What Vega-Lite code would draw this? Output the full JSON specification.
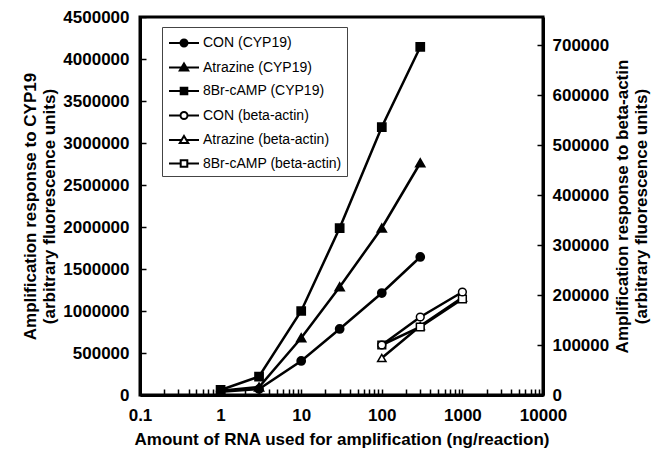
{
  "$schema": "https://vega.github.io/schema/vega-lite/v6.json",
  "width": 403,
  "height": 378,
  "autosize": {"type": "none"},
  "padding": {"left": 140, "top": 17, "right": 119, "bottom": 63},
  "config": {
    "font": "Liberation Sans",
    "view": {"stroke": "black", "strokeWidth": 3},
    "axis": {
      "labelFont": "Liberation Sans", "labelFontWeight": "bold", "labelFontSize": 17, "labelColor": "black",
      "titleFont": "Liberation Sans", "titleFontWeight": "bold", "titleFontSize": 17, "titleColor": "black",
      "titleLineHeight": 19,
      "domainColor": "black", "domainWidth": 3, "tickColor": "black", "tickWidth": 1.5, "grid": false
    },
    "legend": {
      "labelFont": "Liberation Sans", "labelFontSize": 14, "labelColor": "black", "labelLimit": 300,
      "symbolSize": 400, "symbolStrokeWidth": 2, "symbolStrokeColor": "black", "symbolOpacity": 1,
      "strokeColor": "#444", "padding": 5, "rowPadding": 5.5, "symbolOffset": 6, "labelOffset": 8
    }
  },
  "data": {
    "values": [
      {"x": 1, "v": 40000, "series": "CON (CYP19)", "gene": "CYP19", "marker": "circle"},
      {"x": 3, "v": 70000, "series": "CON (CYP19)", "gene": "CYP19", "marker": "circle"},
      {"x": 10, "v": 405000, "series": "CON (CYP19)", "gene": "CYP19", "marker": "circle"},
      {"x": 30, "v": 786000, "series": "CON (CYP19)", "gene": "CYP19", "marker": "circle"},
      {"x": 100, "v": 1214000, "series": "CON (CYP19)", "gene": "CYP19", "marker": "circle"},
      {"x": 300, "v": 1643000, "series": "CON (CYP19)", "gene": "CYP19", "marker": "circle"},
      {"x": 1, "v": 50000, "series": "Atrazine (CYP19)", "gene": "CYP19", "marker": "triangle"},
      {"x": 3, "v": 95000, "series": "Atrazine (CYP19)", "gene": "CYP19", "marker": "triangle"},
      {"x": 10, "v": 679000, "series": "Atrazine (CYP19)", "gene": "CYP19", "marker": "triangle"},
      {"x": 30, "v": 1286000, "series": "Atrazine (CYP19)", "gene": "CYP19", "marker": "triangle"},
      {"x": 100, "v": 1988000, "series": "Atrazine (CYP19)", "gene": "CYP19", "marker": "triangle"},
      {"x": 300, "v": 2762000, "series": "Atrazine (CYP19)", "gene": "CYP19", "marker": "triangle"},
      {"x": 1, "v": 60000, "series": "8Br-cAMP (CYP19)", "gene": "CYP19", "marker": "square"},
      {"x": 3, "v": 220000, "series": "8Br-cAMP (CYP19)", "gene": "CYP19", "marker": "square"},
      {"x": 10, "v": 1000000, "series": "8Br-cAMP (CYP19)", "gene": "CYP19", "marker": "square"},
      {"x": 30, "v": 1988000, "series": "8Br-cAMP (CYP19)", "gene": "CYP19", "marker": "square"},
      {"x": 100, "v": 3190000, "series": "8Br-cAMP (CYP19)", "gene": "CYP19", "marker": "square"},
      {"x": 300, "v": 4143000, "series": "8Br-cAMP (CYP19)", "gene": "CYP19", "marker": "square"},
      {"x": 100, "v": 100000, "series": "CON (beta-actin)", "gene": "beta", "marker": "circle"},
      {"x": 300, "v": 156000, "series": "CON (beta-actin)", "gene": "beta", "marker": "circle"},
      {"x": 1000, "v": 206000, "series": "CON (beta-actin)", "gene": "beta", "marker": "circle"},
      {"x": 100, "v": 74000, "series": "Atrazine (beta-actin)", "gene": "beta", "marker": "triangle"},
      {"x": 300, "v": 138000, "series": "Atrazine (beta-actin)", "gene": "beta", "marker": "triangle"},
      {"x": 1000, "v": 195000, "series": "Atrazine (beta-actin)", "gene": "beta", "marker": "triangle"},
      {"x": 100, "v": 100000, "series": "8Br-cAMP (beta-actin)", "gene": "beta", "marker": "square"},
      {"x": 300, "v": 136000, "series": "8Br-cAMP (beta-actin)", "gene": "beta", "marker": "square"},
      {"x": 1000, "v": 192000, "series": "8Br-cAMP (beta-actin)", "gene": "beta", "marker": "square"}
    ]
  },
  "encoding": {
    "x": {
      "field": "x", "type": "quantitative",
      "scale": {"type": "log", "domain": [0.1, 10000], "nice": false},
      "axis": {
        "values": [0.1,0.2,0.3,0.4,0.5,0.6,0.7,0.8,0.9,1,2,3,4,5,6,7,8,9,10,20,30,40,50,60,70,80,90,100,200,300,400,500,600,700,800,900,1000,2000,3000,4000,5000,6000,7000,8000,9000,10000],
        "format": "~g",
        "labelExpr": "abs(log(datum.value)/LN10 - round(log(datum.value)/LN10)) < 0.000001 ? datum.label : ''",
        "labelOverlap": false, "labelFlush": false,
        "tickSize": -6, "labelPadding": 18,
        "title": "Amount of RNA used for amplification  (ng/reaction)", "titlePadding": 8
      }
    }
  },
  "layer": [
    {
      "encoding": {
        "y": {
          "field": "v", "type": "quantitative",
          "scale": {"domain": [0, 4500000], "nice": false},
          "axis": {
            "orient": "left",
            "values": [0,500000,1000000,1500000,2000000,2500000,3000000,3500000,4000000,4500000],
            "format": "d", "tickSize": -6, "labelPadding": 17,
            "title": ["Amplification response to CYP19", "(arbitrary fluorescence units)"],
            "titlePadding": 4
          }
        }
      },
      "layer": [
        {
          "transform": [{"filter": "datum.gene == 'CYP19'"}],
          "mark": {"type": "line", "color": "black", "strokeWidth": 2.5},
          "encoding": {"detail": {"field": "series"}}
        },
        {
          "transform": [{"filter": "datum.gene == 'CYP19' && datum.marker == 'circle'"}],
          "mark": {"type": "point", "shape": "circle", "filled": true, "fill": "black", "stroke": "black", "size": 60, "opacity": 1}
        },
        {
          "transform": [{"filter": "datum.gene == 'CYP19' && datum.marker == 'triangle'"}],
          "mark": {"type": "point", "shape": "triangle-up", "filled": true, "fill": "black", "stroke": "black", "size": 70, "opacity": 1}
        },
        {
          "transform": [{"filter": "datum.gene == 'CYP19' && datum.marker == 'square'"}],
          "mark": {"type": "point", "shape": "square", "filled": true, "fill": "black", "stroke": "black", "size": 60, "opacity": 1}
        },
        {
          "mark": {"type": "point", "filled": true, "opacity": 0, "strokeWidth": 2},
          "encoding": {
            "shape": {
              "field": "series", "type": "nominal",
              "scale": {
                "domain": ["CON (CYP19)", "Atrazine (CYP19)", "8Br-cAMP (CYP19)", "CON (beta-actin)", "Atrazine (beta-actin)", "8Br-cAMP (beta-actin)"],
                "range": [
                  "M-1.5,0H-0.35M0.35,0H1.5M-0.35,0A0.35,0.35,0,1,1,0.35,0A0.35,0.35,0,1,1,-0.35,0Z",
                  "M-1.5,0H-0.25M0.25,0H1.5M0,-0.4L0.42,0.3L-0.42,0.3Z",
                  "M-1.5,0H-0.33M0.33,0H1.5M-0.33,-0.33H0.33V0.33H-0.33Z",
                  "M-1.5,0H-0.35M0.35,0H1.5M-0.35,0A0.35,0.35,0,1,1,0.35,0A0.35,0.35,0,1,1,-0.35,0Z",
                  "M-1.5,0H-0.25M0.25,0H1.5M0,-0.4L0.42,0.3L-0.42,0.3Z",
                  "M-1.5,0H-0.33M0.33,0H1.5M-0.33,-0.33H0.33V0.33H-0.33Z"
                ]
              },
              "legend": {"title": null, "orient": "none", "legendX": 22, "legendY": 10}
            },
            "fill": {
              "field": "series", "type": "nominal",
              "scale": {
                "domain": ["CON (CYP19)", "Atrazine (CYP19)", "8Br-cAMP (CYP19)", "CON (beta-actin)", "Atrazine (beta-actin)", "8Br-cAMP (beta-actin)"],
                "range": ["black", "black", "black", "white", "white", "white"]
              },
              "legend": {"title": null, "orient": "none", "legendX": 22, "legendY": 10}
            },
            "stroke": {
              "field": "series", "type": "nominal",
              "scale": {
                "domain": ["CON (CYP19)", "Atrazine (CYP19)", "8Br-cAMP (CYP19)", "CON (beta-actin)", "Atrazine (beta-actin)", "8Br-cAMP (beta-actin)"],
                "range": ["black", "black", "black", "black", "black", "black"]
              },
              "legend": {"title": null, "orient": "none", "legendX": 22, "legendY": 10}
            }
          }
        }
      ]
    },
    {
      "transform": [{"filter": "datum.gene == 'beta'"}],
      "encoding": {
        "y": {
          "field": "v", "type": "quantitative",
          "scale": {"domain": [0, 756000], "nice": false},
          "axis": {
            "orient": "right",
            "values": [0,100000,200000,300000,400000,500000,600000,700000],
            "format": "d", "tickSize": -6, "labelPadding": 15,
            "title": ["Amplification response to beta-actin", "(arbitrary fluorescence units)"],
            "titleAngle": 270, "titlePadding": 4
          }
        }
      },
      "layer": [
        {
          "mark": {"type": "line", "color": "black", "strokeWidth": 2.5},
          "encoding": {"detail": {"field": "series"}}
        },
        {
          "transform": [{"filter": "datum.marker == 'triangle'"}],
          "mark": {"type": "point", "shape": "triangle-up", "filled": true, "fill": "white", "stroke": "black", "strokeWidth": 1.5, "size": 70, "opacity": 1}
        },
        {
          "transform": [{"filter": "datum.marker == 'square'"}],
          "mark": {"type": "point", "shape": "square", "filled": true, "fill": "white", "stroke": "black", "strokeWidth": 1.5, "size": 60, "opacity": 1}
        },
        {
          "transform": [{"filter": "datum.marker == 'circle'"}],
          "mark": {"type": "point", "shape": "circle", "filled": true, "fill": "white", "stroke": "black", "strokeWidth": 1.5, "size": 60, "opacity": 1}
        }
      ]
    }
  ],
  "resolve": {"scale": {"y": "independent"}}
}
